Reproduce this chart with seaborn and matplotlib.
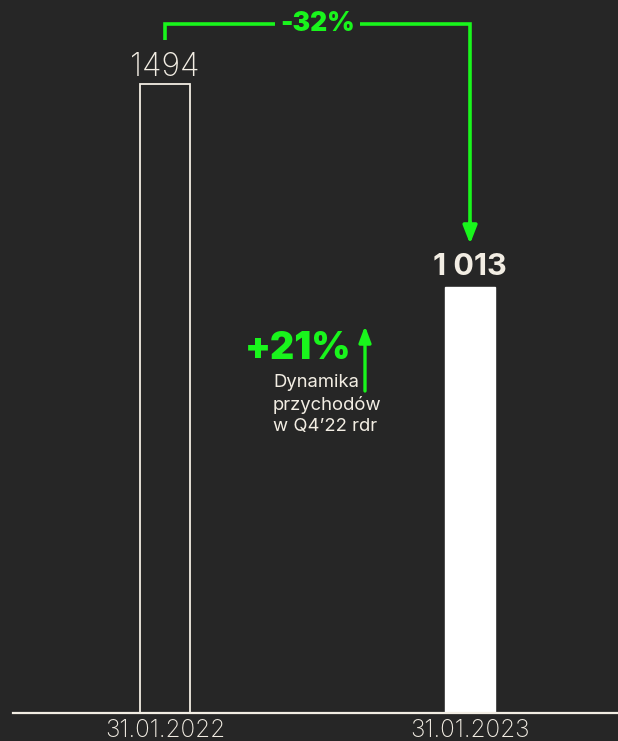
import matplotlib
matplotlib.use("Agg")
import matplotlib.pyplot as plt
import seaborn as sns
import pandas as pd

dates = ["31.01.2022", "31.01.2023"]
values = [1494, 1013]
value_labels = ["1494", "1 013"]
change_label = "-32%"
growth_label = "+21%"
growth_note = "Dynamika\nprzychodów\nw Q4\u201922 rdr"

BG = "#262626"
CREAM = "#f2ede3"
GREEN = "#19f51c"

sns.set_theme(style="white")
plt.rcParams["font.family"] = ["Inter", "DejaVu Sans"]

fig = plt.figure(figsize=(6.18, 7.41), dpi=100, facecolor=BG)
ax = fig.add_axes([13 / 618, 28 / 741, 605 / 618, 713 / 741])
ax.set_facecolor(BG)

df = pd.DataFrame({"date": dates, "value": values})
sns.barplot(data=df, x="date", y="value", ax=ax, width=0.164,
            color=CREAM, saturation=1)

patches = ax.patches
patches[0].set_facecolor(BG)
patches[0].set_edgecolor(CREAM)
patches[0].set_linewidth(1.3)
patches[1].set_facecolor("white")
patches[1].set_edgecolor("white")

ymax = values[0] * 713 / 629
ax.set_ylim(0, ymax)
ax.set_xlim(-0.498, 1.485)

for s in ["top", "right", "left"]:
    ax.spines[s].set_visible(False)
ax.spines["bottom"].set_color(CREAM)
ax.spines["bottom"].set_linewidth(1.6)
ax.set_yticks([])
ax.set_xlabel("")
ax.set_ylabel("")
ax.tick_params(axis="x", length=0, pad=4, labelsize=17.5, labelcolor=CREAM)
for t in ax.get_xticklabels():
    t.set_fontweight("light")

def py(p):
    return (713 - p) / 713 * ymax

# value labels
ax.text(0, py(67), value_labels[0],
        ha="center", va="center", color=CREAM, fontsize=23, fontweight="light")
ax.text(1, py(267), value_labels[1],
        ha="center", va="center", color=CREAM, fontsize=22, fontweight="bold")

# bracket
ytop = py(24)
ax.plot([0, 0, 0.36], [py(40), ytop, ytop], color=GREEN, lw=2.6,
        solid_joinstyle="miter", solid_capstyle="butt")
ax.plot([0.64, 1, 1], [ytop, ytop, py(225)], color=GREEN, lw=2.6,
        solid_joinstyle="miter", solid_capstyle="butt")
ax.annotate("", xy=(1, py(244)), xytext=(1, py(222)),
            arrowprops=dict(arrowstyle="-|>,head_length=0.9,head_width=0.35",
                            color=GREEN, lw=2.6, shrinkA=0, shrinkB=0))
ax.text(0.5, ytop, change_label, ha="center", va="center", color=GREEN,
        fontsize=19, fontweight="black")

# growth annotation
xg = (365 - 165) / 305
ax.annotate("", xy=(xg, py(326)), xytext=(xg, py(391)),
            arrowprops=dict(arrowstyle="-|>,head_length=0.8,head_width=0.3",
                            color=GREEN, lw=2.4, shrinkA=0, shrinkB=0))
ax.text((351 - 165) / 305, py(349), growth_label, ha="right", va="center",
        color=GREEN, fontsize=27, fontweight="black")
ax.text((273 - 165) / 305, py(374), growth_note, ha="left", va="top",
        color=CREAM, fontsize=13.3, linespacing=1.33)

fig.savefig("out.png", dpi=100, facecolor=BG)
